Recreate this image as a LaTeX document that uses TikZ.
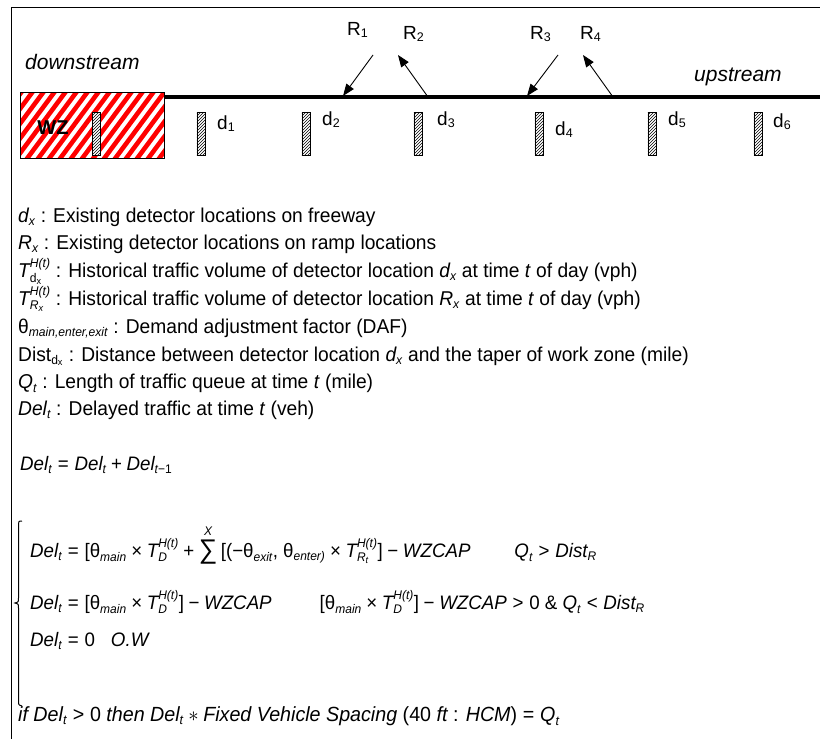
\documentclass[tikz,border=0pt]{standalone}
\usepackage{fontspec}
\setmainfont{Liberation Sans}
\newfontfamily\bodyfont[FakeStretch=0.96]{Liberation Sans}
\usepackage{amsmath}
\DeclareMathSizes{20}{20}{12.6}{9.5}
\DeclareMathSizes{19.5}{19.5}{12.5}{9.5}
\DeclareMathSizes{20.5}{20.5}{13}{10}
\DeclareMathSizes{19}{19}{12.5}{9.5}
\usetikzlibrary{arrows.meta,patterns}
\newcommand\It[1]{\text{\itshape #1}}
\newcommand\Up[1]{\text{\upshape #1}}
\newcommand\BigSum{\mathop{\vcenter{\hbox{\fontsize{27}{27}\selectfont ∑}}}\limits}
\begin{document}
\begin{tikzpicture}[x=1pt,y=-1pt,
  frameline/.style={line width=1pt},
  road/.style={line width=4.5pt},
  ramp/.style={line width=0.9pt,-{Triangle[length=12pt,width=9pt]}},
  det/.style={draw,line width=0.8pt,preaction={fill=white},pattern=north east lines,
              minimum width=8pt,minimum height=43pt,inner sep=0pt,anchor=north west},
  toplbl/.style={font=\fontsize{19}{22}\selectfont,inner sep=0pt},
  txt/.style={anchor=base west,inner sep=0pt,font=\bodyfont\fontsize{20}{24}\selectfont},
  eqn/.style={anchor=base west,inner sep=0pt,font=\bodyfont\fontsize{19.5}{24}\selectfont},
  bracepath/.style={line width=1pt}]
\useasboundingbox (0,0) rectangle (820,739);
% frame (top and left only)
\coordinate (fc) at (11.5,7.5);
\coordinate (fr) at (820,7.5);
\coordinate (fb) at (11.5,739);
\draw[frameline] (fr) -- (fc) -- (fb);
% work zone box with red stripes
\begin{scope}
  \clip (20,92) rectangle (164,158);
  \fill[white] (20,92) rectangle (164,158);
  \foreach \i in {0,...,20} \draw[red,line width=4.6pt] ({\i*11-40},160) -- ++(52,-70);
\end{scope}
\node[draw,line width=1pt,minimum width=144pt,minimum height=66pt,inner sep=0pt,anchor=north west] (wz) at (20,92) {};
\node[font=\bfseries\fontsize{20}{22}\selectfont,inner sep=0pt] (wzl) at (53,127.5) {WZ};
% highway
\coordinate (hw0) at (164,97);
\coordinate (hw1) at (820,97);
\draw[road] (hw0) -- (hw1);
% detectors
\node[det] (dw) at (92,112) {};
\node[det] (d1) at (196.5,112) {};
\node[det] (d2) at (301.5,112) {};
\node[det] (d3) at (413.5,112) {};
\node[det] (d4) at (534.5,112) {};
\node[det] (d5) at (647.5,112) {};
\node[det] (d6) at (753.5,112) {};
\node[toplbl,anchor=base west] (ld1) at (217,129) {d$_{\Up{1}}$};
\node[toplbl,anchor=base west] (ld2) at (322,125) {d$_{\Up{2}}$};
\node[toplbl,anchor=base west] (ld3) at (437,125) {d$_{\Up{3}}$};
\node[toplbl,anchor=base west] (ld4) at (555,135) {d$_{\Up{4}}$};
\node[toplbl,anchor=base west] (ld5) at (668,125) {d$_{\Up{5}}$};
\node[toplbl,anchor=base west] (ld6) at (773,127) {d$_{\Up{6}}$};
% ramps
\node[toplbl,anchor=base west] (lR1) at (347,35) {R$_{\Up{1}}$};
\node[toplbl,anchor=base west] (lR2) at (403,39) {R$_{\Up{2}}$};
\node[toplbl,anchor=base west] (lR3) at (530,39) {R$_{\Up{3}}$};
\node[toplbl,anchor=base west] (lR4) at (580,39) {R$_{\Up{4}}$};
\coordinate (r1s) at (373,55); \coordinate (r1e) at (343,96);
\coordinate (r2s) at (428,97); \coordinate (r2e) at (398,55);
\coordinate (r3s) at (558,55); \coordinate (r3e) at (527,96);
\coordinate (r4s) at (613,97); \coordinate (r4e) at (583,55);
\draw[ramp] (r1s) -- (r1e);
\draw[ramp] (r2s) -- (r2e);
\draw[ramp] (r3s) -- (r3e);
\draw[ramp] (r4s) -- (r4e);
\node[toplbl,anchor=base west,font=\itshape\fontsize{21}{22}\selectfont] (down) at (25,69) {downstream};
\node[toplbl,anchor=base west,font=\itshape\fontsize{21}{22}\selectfont] (up) at (694,81) {upstream};
% legend lines
\node[txt] (l1) at (18,222) {$\It{d}_{\It{x}}$ : Existing detector locations on freeway};
\node[txt] (l2) at (18,249) {$\It{R}_{\It{x}}$ : Existing detector locations on ramp locations};
\node[txt] (l3) at (18,277) {$\It{T}^{\It{H(t)}}_{\Up{d}_{\Up{x}}}$ : Historical traffic volume of detector location $\It{d}_{\It{x}}$ at time \textit{t} of day (vph)};
\node[txt] (l4) at (18,305) {$\It{T}^{\It{H(t)}}_{\It{R}_{\It{x}}}$ : Historical traffic volume of detector location $\It{R}_{\It{x}}$ at time \textit{t} of day (vph)};
\node[txt] (l5) at (18,333) {θ$_{\It{main,enter,exit}}$ : Demand adjustment factor (DAF)};
\node[txt] (l6) at (18,361) {Dist$_{\Up{d}_{\Up{x}}}$ : Distance between detector location $\It{d}_{\It{x}}$ and the taper of work zone (mile)};
\node[txt] (l7) at (18,388) {$\It{Q}_{\It{t}}$ : Length of traffic queue at time \textit{t} (mile)};
\node[txt] (l8) at (18,415) {$\It{Del}_{\It{t}}$ : Delayed traffic at time \textit{t} (veh)};
% equations
\node[eqn] (e0) at (20,470) {$\It{Del}_{\It{t}} \mathrel{\Up{=}} \It{Del}_{\It{t}} \mathbin{\Up{+}} \It{Del}_{\It{t}\Up{−1}}$};
\node[eqn] (e1) at (30,557) {$\It{Del}_{\It{t}} \mathrel{\Up{=}} \Up{[θ}_{\It{main}} \mathbin{\Up{×}} \It{T}^{\It{H(t)}}_{\It{D}} \mathbin{\Up{+}} \BigSum^{\It{X}} \Up{[(−θ}_{\It{exit}}\Up{, θ}_{\It{enter)}} \mathbin{\Up{×}} \It{T}^{\It{H(t)}}_{\It{R}_{\It{t}}}\Up{]} \mathbin{\Up{−}} \It{WZCAP}\hspace{44pt}\It{Q}_{\It{t}} \mathrel{\Up{>}} \It{Dist}_{\It{R}}$};
\node[eqn] (e2) at (30,609) {$\It{Del}_{\It{t}} \mathrel{\Up{=}} \Up{[θ}_{\It{main}} \mathbin{\Up{×}} \It{T}^{\It{H(t)}}_{\It{D}}\Up{]} \mathbin{\Up{−}} \It{WZCAP}\hspace{48pt}\Up{[θ}_{\It{main}} \mathbin{\Up{×}} \It{T}^{\It{H(t)}}_{\It{D}}\Up{]} \mathbin{\Up{−}} \It{WZCAP} \mathrel{\Up{>}} \Up{0 \& }\It{Q}_{\It{t}} \mathrel{\Up{<}} \It{Dist}_{\It{R}}$};
\node[eqn] (e3) at (30,646) {$\It{Del}_{\It{t}} \mathrel{\Up{=}} \Up{0}\hspace{16pt}\It{O.W}$};
\node[eqn,font=\bodyfont\fontsize{20.5}{24}\selectfont] (e4) at (18,721) {$\It{if}\ \It{Del}_{\It{t}} \mathrel{\Up{>}} \Up{0}\ \It{then}\ \It{Del}_{\It{t}} \ast \It{Fixed Vehicle Spacing}\ \Up{(40 }\It{ft}\Up{ : }\It{HCM}\Up{)} \mathrel{\Up{=}} \It{Q}_{\It{t}}$};
% brace
\coordinate (bt) at (22,521);
\coordinate (bm) at (15,603);
\coordinate (bb) at (22,706);
\draw[bracepath] (bt) .. controls (18.5,521) .. (18.5,527) -- (18.5,598) .. controls (18.5,602) .. (bm) .. controls (18.5,604) .. (18.5,608) -- (18.5,700) .. controls (18.5,705) .. (bb);
\end{tikzpicture}
\end{document}
